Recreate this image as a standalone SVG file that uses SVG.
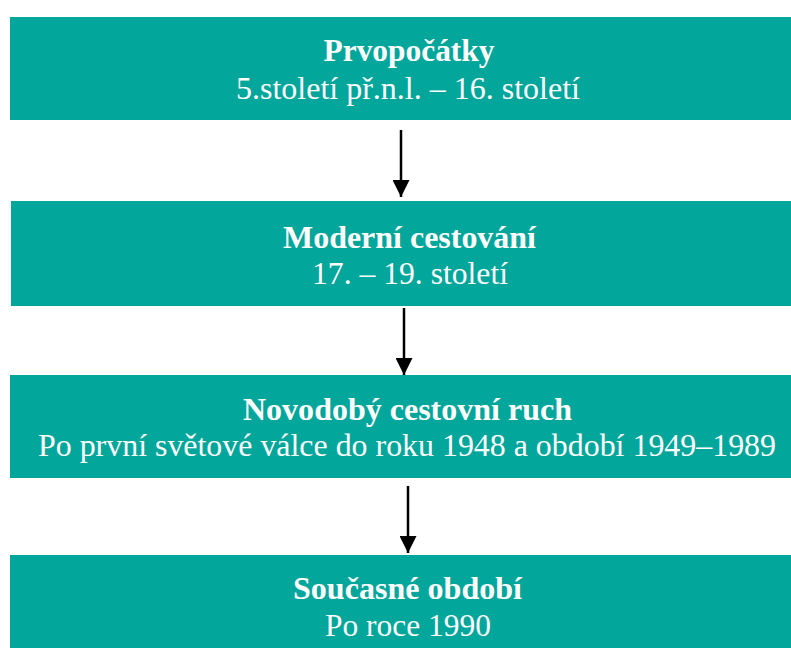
<svg xmlns="http://www.w3.org/2000/svg" width="791" height="648" viewBox="0 0 791 648">
<defs>
<style>
.box{fill:#02A69B}
.t{font-family:"Liberation Serif","Times New Roman",serif;font-size:31px;fill:#ffffff;text-anchor:middle}
.b{font-weight:bold}
.c{stroke:#000;stroke-width:2.5;fill:none}
</style>
<marker id="ah" markerUnits="userSpaceOnUse" markerWidth="17" markerHeight="17" viewBox="0 0 17 17" refX="17" refY="8.5" orient="auto">
<path d="M0,0 L17,8.5 L0,17 Z" fill="#000"/>
</marker>
</defs>
<rect width="791" height="648" fill="#fff"/>
<g id="n1">
<rect class="box" x="10" y="17" width="781" height="103"/>
<text class="t b" x="409" y="61" textLength="171" lengthAdjust="spacingAndGlyphs">Prvopočátky</text>
<text class="t" x="408" y="99" textLength="344" lengthAdjust="spacingAndGlyphs">5.století př.n.l. – 16. století</text>
</g>
<g id="n2">
<rect class="box" x="11" y="201" width="780" height="105"/>
<text class="t b" x="409.5" y="248" textLength="253" lengthAdjust="spacingAndGlyphs">Moderní cestování</text>
<text class="t" x="410" y="284" textLength="196" lengthAdjust="spacingAndGlyphs">17. – 19. století</text>
</g>
<g id="n3">
<rect class="box" x="10" y="375" width="781" height="103"/>
<text class="t b" x="407.5" y="420" textLength="329" lengthAdjust="spacingAndGlyphs">Novodobý cestovní ruch</text>
<text class="t" x="407" y="456" textLength="738" lengthAdjust="spacingAndGlyphs">Po první světové válce do roku 1948 a období 1949–1989</text>
</g>
<g id="n4">
<rect class="box" x="10" y="555" width="781" height="93"/>
<text class="t b" x="407.5" y="599" textLength="229" lengthAdjust="spacingAndGlyphs">Současné období</text>
<text class="t" x="408" y="636" textLength="166" lengthAdjust="spacingAndGlyphs">Po roce 1990</text>
</g>
<g id="connectors">
<line class="c" x1="401" y1="130" x2="401" y2="197" marker-end="url(#ah)"/>
<line class="c" x1="404" y1="308" x2="404" y2="375" marker-end="url(#ah)"/>
<line class="c" x1="408" y1="486" x2="408" y2="553" marker-end="url(#ah)"/>
</g>
</svg>
